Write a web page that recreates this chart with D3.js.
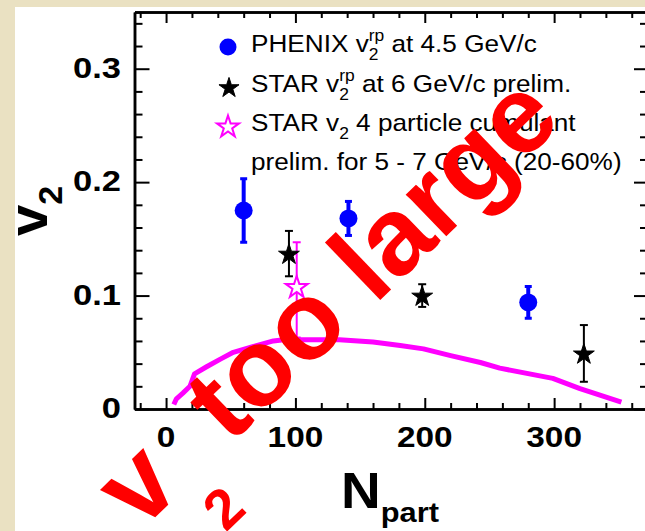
<!DOCTYPE html>
<html>
<head>
<meta charset="utf-8">
<script src="https://cdnjs.cloudflare.com/ajax/libs/d3/7.8.5/d3.min.js"></script>
<style>
  body { margin: 0; background: #eae1c2; }
  svg { display: block; }
</style>
</head>
<body>
<svg id="chart" width="645" height="531"></svg>
<script>

    // data
    var phenixN = [60, 141, 280];
    var phenixV = [0.175, 0.168, 0.094];
    var phenixErr = [0.028, 0.015, 0.014];

    var starN = [95, 198, 323];
    var starV = [0.137, 0.100, 0.049];
    var starErr = [0.020, 0.010, 0.025];

    var cumN = [101];
    var cumV = [0.108];
    var cumLo = [0.063];
    var cumHi = [0.147];

    var curveN = [6, 8, 13, 18.5, 22, 31, 42, 52, 67, 83, 91, 134, 160, 181, 199, 220, 243, 258, 299, 320, 352];
    var curveV = [0.004, 0.009, 0.014, 0.020, 0.031, 0.037, 0.044, 0.050, 0.055, 0.060, 0.061, 0.061, 0.059, 0.056, 0.053, 0.047, 0.041, 0.036, 0.027, 0.018, 0.006];

    var xMajor = [0, 100, 200, 300];
    var xMinor = [-20, 20, 40, 60, 80, 120, 140, 160, 180, 220, 240, 260, 280, 320, 340, 360];
    var yMajor = [0, 0.1, 0.2, 0.3];
    var yMinor = [0.02, 0.04, 0.06, 0.08, 0.12, 0.14, 0.16, 0.18, 0.22, 0.24, 0.26, 0.28, 0.32, 0.34];

    var font = "'Liberation Sans', Arial, sans-serif";

    //=========================================================================
    // Set Dimensions
    //=========================================================================
    var svg = d3.select("#chart");

    svg.append("rect")
      .attr("x", 15).attr("y", 7)
      .attr("width", 640).attr("height", 530)
      .attr("fill", "#ffffff");

    var x = d3.scaleLinear().domain([-24.4, 371.8]).range([134.5, 647]);
    var y = d3.scaleLinear().domain([0, 0.35]).range([409, 12]);

    //=========================================================================
    // Frame and ticks (all ticks point inward)
    //=========================================================================
    function styleAxis(g) {
      g.selectAll("text").remove();
      g.select(".domain").attr("stroke", "#000").attr("stroke-width", 2.5);
      g.selectAll(".tick line").attr("stroke", "#000").attr("stroke-width", 2);
    }

    function frameSide(axisFn, scale, vals, size, transform) {
      svg.append("g")
        .attr("transform", transform)
        .call(axisFn(scale).tickValues(vals).tickSize(size).tickSizeOuter(0).tickFormat(""))
        .call(styleAxis);
    }

    frameSide(d3.axisRight, y, yMajor, 15, "translate(134.5,0)");
    frameSide(d3.axisRight, y, yMinor, 8, "translate(134.5,0)");
    frameSide(d3.axisLeft, y, yMajor, 13, "translate(647,0)");
    frameSide(d3.axisLeft, y, yMinor, 7, "translate(647,0)");
    frameSide(d3.axisTop, x, xMajor, 11, "translate(0,409)");
    frameSide(d3.axisTop, x, xMinor, 6, "translate(0,409)");
    frameSide(d3.axisBottom, x, xMajor, 11, "translate(0,12)");
    frameSide(d3.axisBottom, x, xMinor, 6, "translate(0,12)");

    // tick labels
    svg.append("g").selectAll("text")
      .data(yMajor)
      .enter()
      .append("text")
      .attr("transform", function(d) { return "translate(121," + (y(d) + 9) + ") scale(1.15,1)"; })
      .attr("text-anchor", "end")
      .attr("font-family", font)
      .attr("font-weight", "bold")
      .attr("font-size", 30)
      .text(function(d) { return d === 0 ? "0" : d3.format(".1f")(d); });

    svg.append("g").selectAll("text")
      .data(xMajor)
      .enter()
      .append("text")
      .attr("transform", function(d) { return "translate(" + x(d) + ",447) scale(1.15,1)"; })
      .attr("text-anchor", "middle")
      .attr("font-family", font)
      .attr("font-weight", "bold")
      .attr("font-size", 29)
      .text(function(d) { return d; });

    // axis titles
    var yTitle = svg.append("text")
      .attr("transform", "translate(47,236) rotate(-90)")
      .attr("font-family", font)
      .attr("font-weight", "bold")
      .attr("font-size", 56);
    yTitle.append("tspan").text("v");
    yTitle.append("tspan").attr("font-size", 34).attr("dy", 15).text("2");

    var xTitle = svg.append("text")
      .attr("transform", "translate(341,508) scale(1.1,1)")
      .attr("font-family", font)
      .attr("font-weight", "bold")
      .attr("font-size", 50);
    xTitle.append("tspan").text("N");
    xTitle.append("tspan").attr("font-size", 28).attr("dy", 14).text("part");

    //=========================================================================
    // Model curve
    //=========================================================================
    var curveData = curveN.map(function(n, i) { return [n, curveV[i]]; });
    svg.append("path")
      .datum(curveData)
      .attr("fill", "none")
      .attr("stroke", "#ff00ff")
      .attr("stroke-width", 5)
      .attr("stroke-linejoin", "round")
      .attr("d", d3.line().x(function(d) { return x(d[0]); }).y(function(d) { return y(d[1]); }));

    //=========================================================================
    // Error bars and markers
    //=========================================================================
    function errorBars(ns, lo, hi, color, width, capW) {
      var g = svg.append("g").attr("stroke", color);
      ns.forEach(function(n, i) {
        g.append("line")
          .attr("x1", x(n)).attr("x2", x(n))
          .attr("y1", y(lo[i])).attr("y2", y(hi[i]))
          .attr("stroke-width", width);
        [lo[i], hi[i]].forEach(function(v) {
          g.append("line")
            .attr("x1", x(n) - capW / 2).attr("x2", x(n) + capW / 2)
            .attr("y1", y(v)).attr("y2", y(v))
            .attr("stroke-width", width === 4 ? 3 : 2);
        });
      });
    }

    errorBars(phenixN,
      phenixV.map(function(v, i) { return v - phenixErr[i]; }),
      phenixV.map(function(v, i) { return v + phenixErr[i]; }),
      "#0000ff", 4, 7);
    errorBars(starN,
      starV.map(function(v, i) { return v - starErr[i]; }),
      starV.map(function(v, i) { return v + starErr[i]; }),
      "#000000", 2, 8);
    errorBars(cumN, cumLo, cumHi, "#ff00ff", 2, 8);

    var star = d3.symbol().type(d3.symbolStar);

    svg.append("g").selectAll("circle")
      .data(phenixN)
      .enter()
      .append("circle")
      .attr("cx", function(d) { return x(d); })
      .attr("cy", function(d, i) { return y(phenixV[i]); })
      .attr("r", 9)
      .attr("fill", "#0000ff");

    svg.append("g").selectAll("path")
      .data(starN)
      .enter()
      .append("path")
      .attr("transform", function(d, i) { return "translate(" + x(d) + "," + (y(starV[i]) + 1) + ")"; })
      .attr("d", star.size(135)())
      .attr("fill", "#000")
      .attr("stroke", "#000")
      .attr("stroke-width", 1)
      .attr("stroke-linejoin", "round");

    svg.append("g").selectAll("path")
      .data(cumN)
      .enter()
      .append("path")
      .attr("transform", function(d, i) { return "translate(" + x(d) + "," + (y(cumV[i]) + 1) + ")"; })
      .attr("d", star.size(150)())
      .attr("fill", "#fff")
      .attr("stroke", "#ff00ff")
      .attr("stroke-width", 2);

    //=========================================================================
    // Legend
    //=========================================================================
    svg.append("circle").attr("cx", 228).attr("cy", 47).attr("r", 8.5).attr("fill", "#0000ff");
    svg.append("path").attr("transform", "translate(229,88)").attr("d", star.size(125)())
      .attr("fill", "#000").attr("stroke", "#000").attr("stroke-width", 1).attr("stroke-linejoin", "round");
    svg.append("path").attr("transform", "translate(228,127)").attr("d", star.size(150)())
      .attr("fill", "#fff").attr("stroke", "#ff00ff").attr("stroke-width", 2);

    // text with a stacked sup/sub pair: parts = [main, sup, sub, rest]
    function legendLine(yBase, parts) {
      var t = svg.append("text")
        .attr("transform", "translate(251," + yBase + ") scale(1.09,1)")
        .attr("font-family", font)
        .attr("font-size", 24)
        .attr("fill", "#000");
      t.append("tspan").text(parts[0]);
      var wSup = 0, wSub = 0;
      if (parts[1]) {
        var sup = t.append("tspan").attr("font-size", 16).attr("dy", -11).text(parts[1]);
        wSup = sup.node().getComputedTextLength();
      }
      if (parts[2]) {
        var sub = t.append("tspan").attr("font-size", 16)
          .attr("dx", -wSup).attr("dy", parts[1] ? 19 : 8).text(parts[2]);
        wSub = sub.node().getComputedTextLength();
      }
      if (parts[3]) {
        t.append("tspan").attr("font-size", 24)
          .attr("dx", Math.max(wSup - wSub, 0)).attr("dy", parts[2] ? -8 : 0).text(parts[3]);
      }
    }

    legendLine(52, ["PHENIX v", "rp", "2", " at 4.5 GeV/c"]);
    legendLine(91.5, ["STAR v", "rp", "2", " at 6 GeV/c prelim."]);
    legendLine(130.5, ["STAR v", "", "2", " 4 particle cumulant"]);
    legendLine(170, ["prelim. for 5 - 7 GeV/c (20-60%)", "", "", ""]);

    //=========================================================================
    // Red stamp on top
    //=========================================================================
    var stamp = svg.append("text")
      .attr("transform", "translate(140,532) rotate(-44)")
      .attr("font-family", font)
      .attr("font-weight", "bold")
      .attr("font-size", 110)
      .attr("fill", "#ff0000");
    stamp.append("tspan").text("v");
    stamp.append("tspan").attr("font-size", 56).attr("dy", 60).text("2");
    stamp.append("tspan").attr("dy", -60).attr("dx", 2).text(" too large");

</script>
</body>
</html>
